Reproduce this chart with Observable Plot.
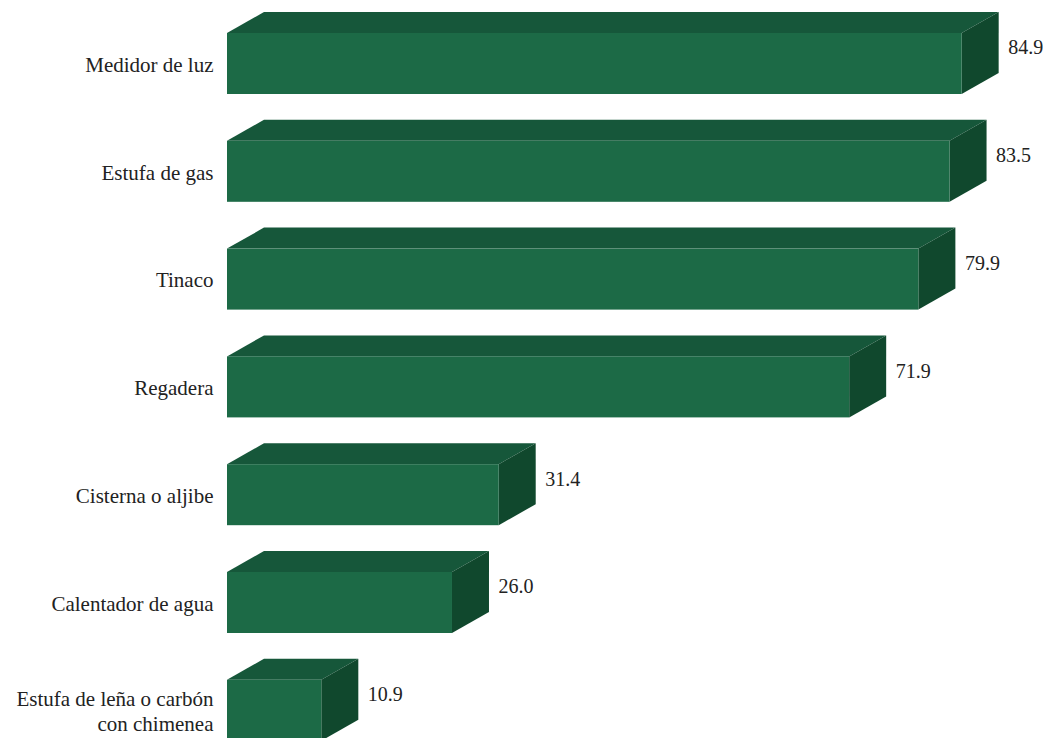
<!DOCTYPE html>
<html>
<head>
<meta charset="utf-8">
<script src="https://cdn.jsdelivr.net/npm/d3@7"></script>
<script src="https://cdn.jsdelivr.net/npm/@observablehq/plot@0.6"></script>
<style>
  html, body { margin: 0; padding: 0; background: #ffffff; }
  #chart svg { display: block; }
  #chart svg text, #chart svg tspan { font-family: "Liberation Serif", "DejaVu Serif", serif !important; }
</style>
</head>
<body>
<div id="chart"></div>
<script>
// Data
const categories = [
  "Medidor de luz",
  "Estufa de gas",
  "Tinaco",
  "Regadera",
  "Cisterna o aljibe",
  "Calentador de agua",
  "Estufa de leña o carbón\ncon chimenea"
];
const values = [84.9, 83.5, 79.9, 71.9, 31.4, 26.0, 10.9];
const valueLabels = ["84.9", "83.5", "79.9", "71.9", "31.4", "26.0", "10.9"];

// Geometry (styles)
const W = 1043, H = 738;
const marginLeft = 227;
const xMax = 94.3;                    // x domain upper bound
const pxPerUnitX = (W - marginLeft) / xMax;
const step = 107.8;                   // px per category
const yTopPx = 63.5;                  // px of first category centre
const half = 30.5 / step;             // half front-face height in y units
const depthX = 37 / pxPerUnitX;       // 3D depth, x units
const depthY = 21 / step;             // 3D depth, y units

const rows = categories.map((c, i) => ({cat: c, i, v: values[i], label: valueLabels[i]}));

const topFace = rows.flatMap(d => [
  {cat: d.cat, y: d.i - half, x1: 0, x2: d.v},
  {cat: d.cat, y: d.i - half - depthY, x1: depthX, x2: d.v + depthX}
]);
const sideFace = rows.flatMap(d => [
  {cat: d.cat, x: d.v, y1: d.i + half, y2: d.i - half},
  {cat: d.cat, x: d.v + depthX, y1: d.i + half - depthY, y2: d.i - half - depthY}
]);

const chart = Plot.plot({
  width: W,
  height: H,
  marginLeft: marginLeft,
  marginRight: 0,
  marginTop: 0,
  marginBottom: 0,
  style: {background: "#ffffff", fontFamily: "'Liberation Serif', serif"},
  x: {domain: [0, xMax], axis: null},
  y: {domain: [-yTopPx / step, (H - yTopPx) / step], range: [0, H], axis: null},
  marks: [
    Plot.areaX(topFace, {y: "y", x1: "x1", x2: "x2", z: "cat", fill: "#16573a", curve: "linear"}),
    Plot.areaY(sideFace, {x: "x", y1: "y1", y2: "y2", z: "cat", fill: "#10482d", curve: "linear"}),
    Plot.rect(rows, {x1: 0, x2: "v", y1: d => d.i - half, y2: d => d.i + half, fill: "#1c6a46"}),
    Plot.text(rows, {
      x: 0, y: "i", text: "cat", dx: -14, textAnchor: "end",
      fontFamily: "'Liberation Serif', serif", fontSize: 21,
      fill: "#222222", lineHeight: 1.15
    }),
    Plot.text(rows, {
      x: "v", y: "i", text: "label", dx: 46, dy: -16, textAnchor: "start",
      fontFamily: "'Liberation Serif', serif", fontSize: 20,
      fill: "#222222"
    })
  ]
});
document.getElementById("chart").appendChild(chart);
</script>
</body>
</html>
